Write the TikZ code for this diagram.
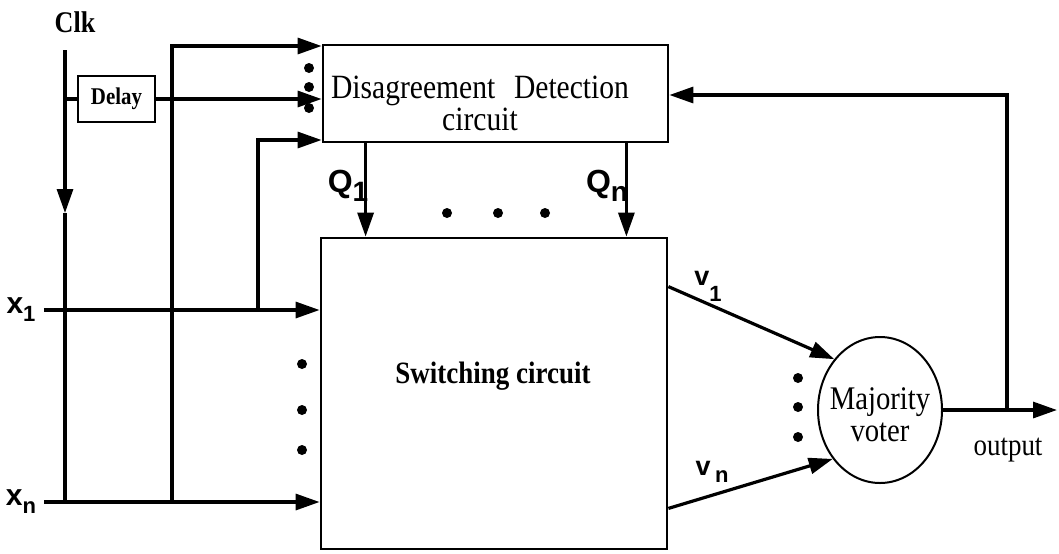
\documentclass[tikz,border=0pt]{standalone}
\usepackage{fontspec}
\setmainfont[FakeStretch=0.87]{Liberation Serif}
\newfontfamily\labelfont{Liberation Sans}
\usetikzlibrary{arrows.meta,shapes.geometric}

\tikzset{
  wire/.style={line width=1.6pt},
  sig/.style={wire, -{Triangle[length=12pt,width=8pt]}},
  blockbox/.style={draw, line width=1.4pt, inner sep=0pt},
  dotmark/.style={circle, fill, inner sep=0pt, minimum size=5pt},
  lbl/.style={inner sep=1pt, font=\labelfont\bfseries\fontsize{15}{15}\selectfont},
  txt/.style={inner sep=0pt, align=center},
}
\newcommand{\idx}[4][11]{#2\raisebox{-#4}{\fontsize{#1}{#1}\selectfont #3}}

\begin{document}
\begin{tikzpicture}[x=0.5pt, y=-0.5pt]
  \useasboundingbox (0,0) rectangle (1059,553);

  % blocks
  \node[blockbox, minimum width=172.5pt, minimum height=48.5pt] (detect) at (495.5,93.5) {};
  \node[txt, font=\fontsize{17}{12.5}\selectfont] (detectlbl) at (480,103)
    {Disagreement\hspace{0.55em}Detection\\circuit};
  \node[blockbox, minimum width=173pt, minimum height=155.5pt] (switch) at (494,393.5) {};
  \node[txt, font=\bfseries\fontsize{15.5}{15.5}\selectfont] (switchlbl) at (493,376) {Switching circuit};
  \node[blockbox, minimum width=38.5pt, minimum height=23pt,
        font=\bfseries\fontsize{12}{12}\selectfont] (delay) at (116.5,99) {Delay};
  \node[draw, ellipse, line width=1pt, minimum width=62pt, minimum height=73pt] (voter) at (880,410) {};
  \node[txt, font=\fontsize{16.5}{16}\selectfont] (voterlbl) at (880,415) {Majority\\voter};

  % signal labels
  \node[font=\bfseries\fontsize{15}{15}\selectfont, inner sep=0pt] (clk) at (75,22) {Clk};
  \node[lbl] (x1) at (21,310) {\idx{x}{1}{4pt}};
  \node[lbl] (xn) at (21,502) {\idx{x}{n}{4pt}};
  \node[lbl, font=\labelfont\bfseries\fontsize{16}{16}\selectfont] (q1lbl) at (348,186) {\idx[14]{Q}{1}{4.5pt}};
  \node[lbl, font=\labelfont\bfseries\fontsize{16}{16}\selectfont] (qnlbl) at (607,186) {\idx[14]{Q}{n}{4.5pt}};
  \node[lbl, font=\labelfont\bfseries\fontsize{13.5}{13.5}\selectfont] (v1lbl) at (708,286) {\idx{v}{1}{8pt}};
  \node[lbl, font=\labelfont\bfseries\fontsize{13.5}{13.5}\selectfont] (vnlbl) at (712,472) {\idx{v\,}{n}{3.5pt}};
  \node[font=\fontsize{15.5}{15.5}\selectfont, inner sep=0pt] (outlbl) at (1008,450) {output};

  % clock and delay
  \coordinate (clktop) at (65,50);
  \coordinate (clkmid) at (65,213);
  \draw[sig] (clktop) -- (clkmid);
  \draw[wire] (clkmid) -- (clktop |- xn.east);
  \draw[wire] (clktop |- delay.west) -- (delay.west);
  \draw[sig] (delay.east) -- (detect.west |- delay.east);

  % inputs
  \draw[sig] ([xshift=3pt]x1.east) -- (switch.west |- x1.east);
  \draw[sig] ([xshift=3pt]xn.east) -- (switch.west |- xn.east);
  \coordinate (atop) at (172,46);
  \draw[sig] (atop |- xn.east) -- (atop) -- (detect.west |- atop);
  \coordinate (btop) at (258,140);
  \draw[sig] (btop |- x1.east) -- (btop) -- (detect.west |- btop);

  % detection outputs
  \coordinate (q1top) at ([xshift=22pt]detect.south west);
  \coordinate (qntop) at ([xshift=-21.5pt]detect.south east);
  \draw[sig] (q1top) -- (q1top |- switch.north);
  \draw[sig] (qntop) -- (qntop |- switch.north);

  % voter inputs and output
  \draw[sig] ([yshift=-25pt]switch.north east) -- (voter.132);
  \draw[sig] ([yshift=21pt]switch.south east) -- (voter.226);
  \coordinate (fbjoin) at (1007,410);
  \coordinate (fbtop) at (1007,95);
  \coordinate (outend) at (1057,410);
  \draw[sig] (voter.east) -- (outend);
  \draw[sig] (fbjoin) -- (fbtop) -- (detect.east |- fbtop);

  % dots
  \foreach \y [count=\i] in {68,87,108}
    \node[dotmark] (ddot\i) at (309,\y) {};
  \foreach \x [count=\i] in {447,498,545}
    \node[dotmark] (qdot\i) at (\x,213) {};
  \foreach \y [count=\i] in {364,410,450}
    \node[dotmark] (xdot\i) at (302,\y) {};
  \foreach \y [count=\i] in {378,407,437}
    \node[dotmark] (vdot\i) at (798,\y) {};
\end{tikzpicture}
\end{document}
